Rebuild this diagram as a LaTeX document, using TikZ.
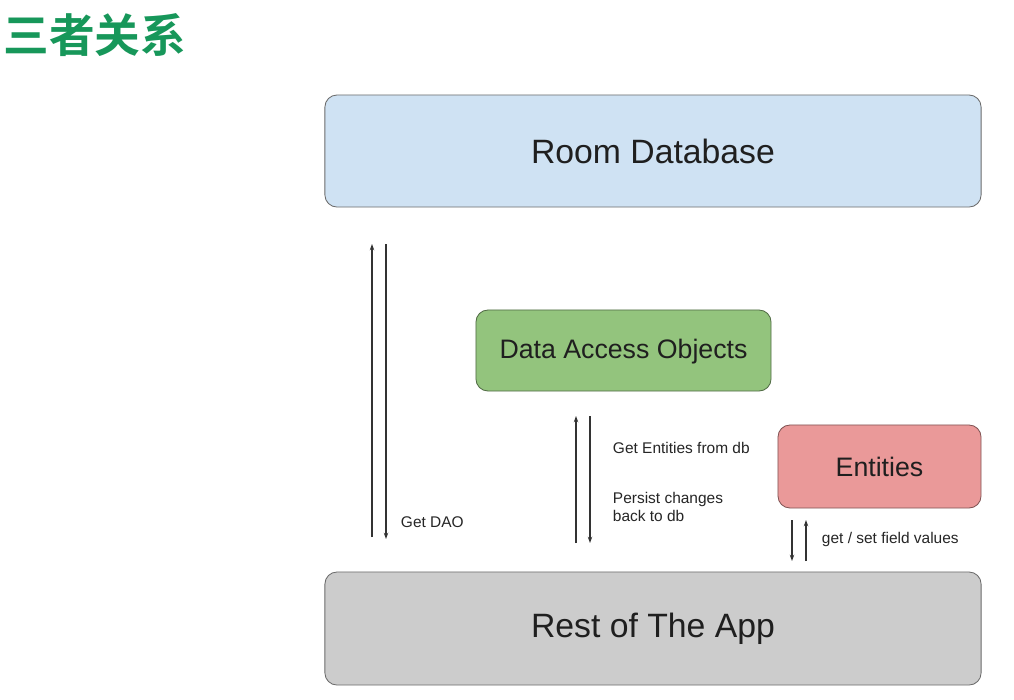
\documentclass[tikz,border=0pt]{standalone}
\usepackage{fontspec}
\setmainfont{Liberation Sans}
\newfontfamily\cjk{Noto Sans CJK SC Bold}
\usetikzlibrary{arrows.meta}

\definecolor{titlegreen}{HTML}{17975A}
\definecolor{roomblue}{HTML}{CFE2F3}
\definecolor{daogreen}{HTML}{93C47D}
\definecolor{entred}{HTML}{EA9999}
\definecolor{appgray}{HTML}{CCCCCC}
\definecolor{linegray}{HTML}{333333}

\tikzset{
    block/.style={draw=gray!85!black, rounded corners=0.3cm, line width=0.6pt,
        text=black!88, inner sep=0pt},
    flow/.style={linegray, line width=0.8pt, -{Stealth[length=4.5pt, width=3.2pt]}},
    note/.style={text=black!85, font=\fontsize{11}{13}\selectfont, align=left, anchor=west}
}

\begin{document}
\begin{tikzpicture}[x=0.025cm, y=-0.025cm]
    \useasboundingbox[fill=white] (0,0) rectangle (1014,699);

    \node[text=titlegreen, font=\cjk\fontsize{32.5}{36}\selectfont] (title) at (95,35) {三者关系};

    \node[block, fill=roomblue, minimum width=16.4cm, minimum height=2.8cm,
        font=\fontsize{24}{28}\selectfont] (room) at (653,151) {Room Database};
    \node[block, fill=daogreen, draw=daogreen!55!black, minimum width=7.375cm, minimum height=2.025cm,
        font=\fontsize{19}{22}\selectfont, text depth=0.5ex] (dao) at (623.5,350.5) {Data Access Objects};
    \node[block, fill=entred, draw=entred!55!black, minimum width=5.075cm, minimum height=2.075cm,
        font=\fontsize{19}{22}\selectfont] (ent) at (879.5,466.5) {Entities};
    \node[block, fill=appgray, draw=gray!85!black, minimum width=16.4cm, minimum height=2.825cm,
        font=\fontsize{24}{28}\selectfont] (app) at (653,628.5) {Rest of The App};

    % Get DAO
    \coordinate (daoA) at (372,537);
    \coordinate (daoB) at (372,244);
    \coordinate (daoC) at (386,244);
    \coordinate (daoD) at (386,539);
    \draw[flow] (daoA) -- (daoB);
    \draw[flow] (daoC) -- (daoD);
    \node[note] (getdao) at (396,522) {Get DAO};

    % entities from db
    \coordinate (dbA) at (576,543);
    \coordinate (dbB) at (576,416);
    \coordinate (dbC) at (590,416);
    \coordinate (dbD) at (590,543);
    \draw[flow] (dbA) -- (dbB);
    \draw[flow] (dbC) -- (dbD);
    \node[note] (getent) at (608,448) {Get Entities from db};
    \node[note] (persist) at (608,507) {Persist changes\\back to db};

    % field values
    \coordinate (fvA) at (792,520);
    \coordinate (fvB) at (792,561);
    \coordinate (fvC) at (806,561);
    \coordinate (fvD) at (806,520);
    \draw[flow] (fvA) -- (fvB);
    \draw[flow] (fvC) -- (fvD);
    \node[note] (fields) at (817,539) {get / set field values};
\end{tikzpicture}
\end{document}
